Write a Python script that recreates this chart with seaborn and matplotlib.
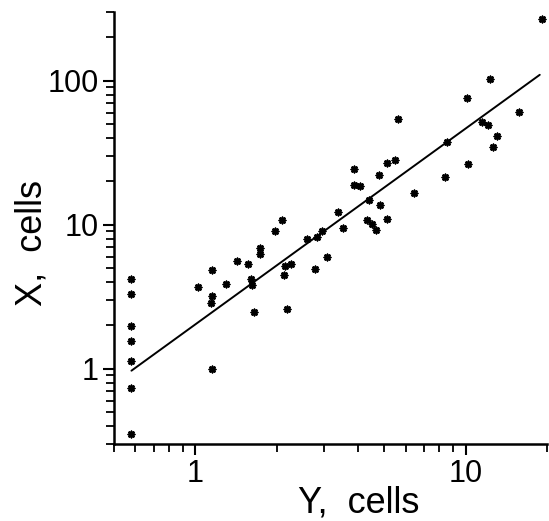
import numpy as np
import pandas as pd
import matplotlib
matplotlib.use("Agg")
import matplotlib.pyplot as plt
import matplotlib.ticker as mticker
import seaborn as sns

# values (log-log scatter)
y_cells = [0.58, 0.58, 0.58, 0.58, 0.58, 0.58, 0.58,
           1.02, 1.15, 1.15, 1.14, 1.30, 1.43, 1.57, 1.60, 1.62, 1.65,
           1.73, 1.74, 1.97, 2.09, 2.14, 2.13, 2.25, 2.19, 2.58, 2.81,
           2.77, 2.94, 3.08, 3.37, 3.52, 3.85, 3.85, 4.07, 4.38, 4.32,
           4.50, 4.67, 4.79, 4.83, 5.13, 5.13, 5.46, 6.44, 8.36, 10.2,
           5.63, 8.53, 10.1, 11.5, 12.1, 12.3, 13.1, 12.6, 15.8, 19.2,
           1.15]
x_cells = [4.19, 3.29, 1.98, 1.56, 1.14, 0.73, 0.35,
           3.69, 4.82, 3.20, 2.86, 3.89, 5.60, 5.36, 4.19, 3.79, 2.48,
           6.94, 6.30, 9.08, 10.7, 5.14, 4.49, 5.34, 2.59, 7.94, 8.20,
           4.92, 9.08, 6.00, 12.3, 9.48, 24.2, 18.8, 18.7, 14.9, 10.8,
           10.1, 9.23, 22.3, 13.6, 10.96, 26.7, 28.2, 16.6, 21.6, 26.3,
           54.5, 37.6, 75.7, 51.4, 49.5, 103, 41.1, 34.4, 61.0, 267,
           1.0]

# fitted line in log10 space
fit_slope = 1.36
fit_icpt = 0.308
fit_xrange = [0.58, 18.8]

df = pd.DataFrame({"Y": y_cells, "X": x_cells})
line = pd.DataFrame({"Y": fit_xrange})
line["X"] = 10 ** (fit_icpt + fit_slope * np.log10(line["Y"]))

sns.set_style("ticks")
plt.rcParams["font.family"] = ["Liberation Sans", "DejaVu Sans"]
plt.rcParams["text.color"] = "black"
plt.rcParams["xtick.color"] = "black"
plt.rcParams["ytick.color"] = "black"

fig = plt.figure(figsize=(5.49, 5.21), dpi=100)
ax = fig.add_axes([0.2077, 0.1478, 0.7887, 0.8292])

sns.lineplot(data=line, x="Y", y="X", color="black", lw=1.4, ax=ax)
sns.scatterplot(data=df, x="Y", y="X", color="black", marker=(8, 2, 0),
                s=20, linewidth=1.3, edgecolor="black", ax=ax)

ax.set_xscale("log")
ax.set_yscale("log")
ax.set_xlim(0.5, 20)
ax.set_ylim(0.3, 300)

ax.xaxis.set_major_locator(mticker.FixedLocator([1, 10]))
ax.xaxis.set_major_formatter(mticker.FixedFormatter(["1", "10"]))
ax.xaxis.set_minor_locator(mticker.LogLocator(base=10, subs=np.arange(2, 10)))
ax.xaxis.set_minor_formatter(mticker.NullFormatter())
ax.yaxis.set_major_locator(mticker.FixedLocator([1, 10, 100]))
ax.yaxis.set_major_formatter(mticker.FixedFormatter(["1", "10", "100"]))
ax.yaxis.set_minor_locator(mticker.LogLocator(base=10, subs=np.arange(2, 10)))
ax.yaxis.set_minor_formatter(mticker.NullFormatter())

ax.tick_params(which="major", length=8, width=1.5, labelsize=22, pad=3,
               color="black", labelcolor="black")
ax.tick_params(which="minor", length=6, width=1.3, color="black")

sns.despine(ax=ax)
for s in ("left", "bottom"):
    ax.spines[s].set_linewidth(1.8)
    ax.spines[s].set_color("black")

ax.set_xlabel("Y,  cells", fontsize=26, color="black")
ax.set_ylabel("X,  cells", fontsize=26, color="black")
ax.xaxis.set_label_coords(0.566, -0.095)
ax.yaxis.set_label_coords(-0.148, 0.465)

fig.savefig("out.png", dpi=100)
